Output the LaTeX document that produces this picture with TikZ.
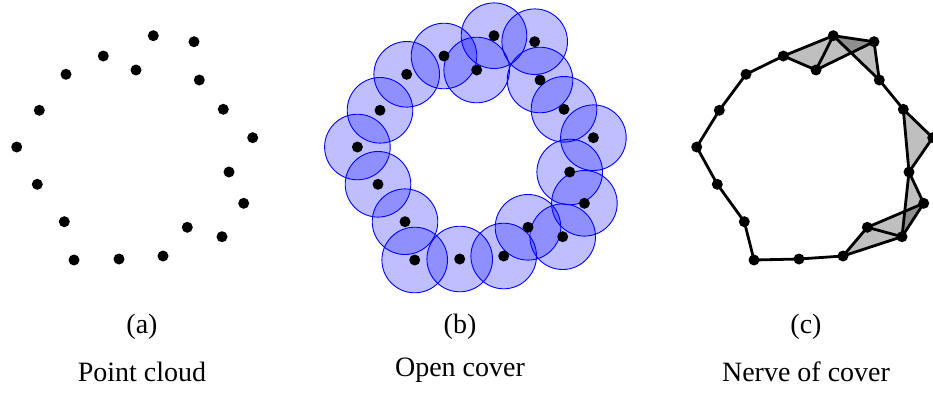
\documentclass[tikz,border=0pt]{standalone}
\usepackage{fontspec}
\setmainfont{Liberation Serif}
\begin{document}
\begin{tikzpicture}[x=1pt,y=-1pt,
  dot/.style={circle,fill=black,inner sep=0pt,minimum size=11pt},
  ball/.style={draw=blue,line width=0.9pt,fill=blue,fill opacity=0.25},
  edge/.style={line width=2.8pt,line join=round},
  face/.style={fill=black,fill opacity=0.25},
  lbl/.style={font=\fontsize{28}{32}\selectfont,inner sep=0pt}]
\useasboundingbox (0,0) rectangle (933,394);
\def\pts{1/153.3/35.7,2/194/41.7,3/103.3/56,4/136/70,5/66/74.3,6/199.3/80,7/39.3/110.3,8/223.3/109.3,9/252.7/137.7,10/16.7/147,11/229/172,12/37.3/184.3,13/243.7/203.3,14/64.3/221.7,15/187.3/227.3,16/222/236.7,17/74/260,18/119/259,19/163/256}
% (a) point cloud
\foreach \i/\x/\y in \pts { \node[dot] (a\i) at (\x,\y) {}; }
% (b) open cover
\foreach \i/\x/\y in \pts { \coordinate (b\i) at (\x+340.7,\y); }
\foreach \i/\x/\y in \pts { \path[ball] (b\i) circle[radius=32.8]; }
\foreach \i/\x/\y in \pts { \node[dot] (bd\i) at (b\i) {}; }
% (c) nerve
\foreach \i/\x/\y in \pts { \coordinate (c\i) at (\x+680,\y); }
\foreach \p/\q/\r in {3/1/4,1/4/2,1/2/6,8/9/11,11/13/16,15/13/16,15/16/19}
  { \path[face] (c\p) -- (c\q) -- (c\r) -- cycle; }
\foreach \p/\q in {10/7,7/5,5/3,3/1,3/4,1/4,4/2,1/2,1/6,2/6,6/8,8/9,8/11,9/11,11/13,11/16,13/16,13/15,15/16,15/19,16/19,19/18,18/17,17/14,14/12,12/10}
  { \draw[edge] (c\p) -- (c\q); }
\foreach \i/\x/\y in \pts { \node[dot] (cd\i) at (c\i) {}; }
% labels
\node[lbl] (la) at (142,327) {(a)};
\node[lbl] (ta) at (142,372) {Point cloud};
\node[lbl] (lb) at (460,327) {(b)};
\node[lbl] (tb) at (460,370) {Open cover};
\node[lbl] (lc) at (806,327) {(c)};
\node[lbl] (tc) at (806,372) {Nerve of cover};
\end{tikzpicture}
\end{document}
